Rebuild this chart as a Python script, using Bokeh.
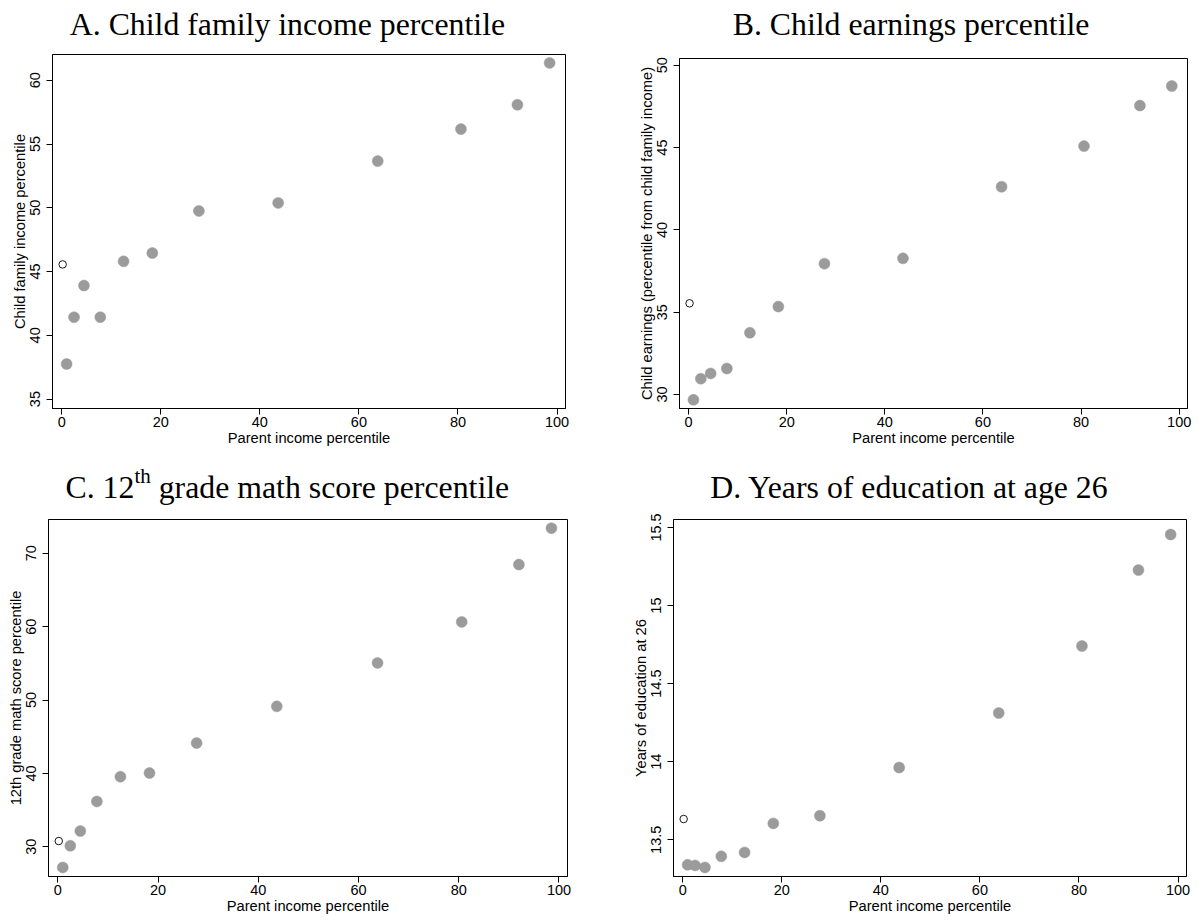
from bokeh.plotting import figure
from bokeh.models import FixedTicker, Range1d
from bokeh.layouts import column, row
from bokeh.core.properties import value
from bokeh.embed import file_html
from bokeh.resources import INLINE

# ---------------- data ----------------
parent_pct = [1.0, 2.5, 4.5, 7.8, 12.5, 18.3, 27.7, 43.7, 63.8, 80.6, 92.0, 98.5]
zero_parent_pct = [0.2]

child_income = [37.75, 41.42, 43.90, 41.42, 45.80, 46.45, 49.75, 50.38, 53.66, 56.17, 58.08, 61.36]
child_income_zero = [45.56]

child_earnings = [29.68, 30.96, 31.28, 31.58, 33.75, 35.34, 37.95, 38.27, 42.62, 45.09, 47.55, 48.74]
child_earnings_zero = [35.54]

math_score = [27.18, 30.14, 32.14, 36.18, 39.55, 40.05, 44.14, 49.14, 55.05, 60.64, 68.46, 73.41]
math_score_zero = [30.78]

years_educ = [13.340, 13.336, 13.323, 13.394, 13.419, 13.605, 13.654, 13.963, 14.312, 14.741, 15.227, 15.455]
years_educ_zero = [13.633]

x_ticks = [0, 20, 40, 60, 80, 100]
x_tick_labels = ["0", "20", "40", "60", "80", "100"]

a_ticks = [35, 40, 45, 50, 55, 60]
a_tick_labels = ["35", "40", "45", "50", "55", "60"]
b_ticks = [30, 35, 40, 45, 50]
b_tick_labels = ["30", "35", "40", "45", "50"]
c_ticks = [30, 40, 50, 60, 70]
c_tick_labels = ["30", "40", "50", "60", "70"]
d_ticks = [13.5, 14, 14.5, 15, 15.5]
d_tick_labels = ["13.5", "14", "14.5", "15", "15.5"]

x_label = "Parent income percentile"
a_ylabel = "Child family income percentile"
b_ylabel = "Child earnings (percentile from child family income)"
c_ylabel = "12th grade math score percentile"
d_ylabel = "Years of education at 26"

a_title = "A. Child family income percentile"
b_title = "B. Child earnings percentile"
c_title_parts = ["C. 12", "th", "grade math score percentile"]
d_title = "D. Years of education at age 26"

SERIF = "Liberation Serif"
SANS = "Liberation Sans"
FILL = "#9b9b9b"
PANEL_W = 601
TITLE_H = 50
PLOT_H = 410


def title_fig(pieces, fw):
    # the title strip's frame is aligned with the plot frame below it,
    # so its x units are pixels measured from that frame's left edge
    t = figure(width=PANEL_W, height=TITLE_H, x_range=Range1d(0, fw),
               y_range=Range1d(0, TITLE_H), x_axis_type=None, y_axis_type=None,
               min_border=0, output_backend="svg", toolbar_location=None,
               title=None, background_fill_color="white",
               border_fill_color="white")
    t.outline_line_color = None
    t.grid.visible = False
    for (txt, tx, ty, size) in pieces:
        t.text(x=[tx], y=[ty], text=[txt], text_font=value(SERIF),
               text_font_size=value(size), text_color="black",
               text_align="left", text_baseline="alphabetic")
    return t


def make_panel(xs, ys, x0s, y0s, y_range, yticks, ylabels, ylabel,
               fw, fh, bl, bt):
    p = figure(frame_width=fw, frame_height=fh,
               min_border_left=bl, min_border_right=PANEL_W - bl - fw,
               min_border_top=bt, min_border_bottom=PLOT_H - bt - fh,
               x_range=Range1d(-1.85, 101.7), y_range=Range1d(*y_range),
               output_backend="svg", toolbar_location=None, title=None,
               background_fill_color="white", border_fill_color="white")
    p.outline_line_color = "black"
    p.outline_line_alpha = 1.0
    p.outline_line_width = 1
    p.grid.visible = False

    p.xaxis.ticker = FixedTicker(ticks=x_ticks)
    p.xaxis.major_label_overrides = dict(zip(x_ticks, x_tick_labels))
    p.yaxis.ticker = FixedTicker(ticks=yticks)
    p.yaxis.major_label_overrides = dict(zip(yticks, ylabels))
    p.yaxis.major_label_orientation = "vertical"

    for ax in (p.xaxis[0], p.yaxis[0]):
        ax.axis_line_color = "black"
        ax.major_tick_line_color = "black"
        ax.major_tick_out = 6
        ax.major_tick_in = 0
        ax.minor_tick_out = 0
        ax.minor_tick_in = 0
        ax.major_label_text_font = SANS
        ax.major_label_text_font_size = "14.5px"
        ax.major_label_text_color = "black"
        ax.axis_label_text_font = SANS
        ax.axis_label_text_font_size = "14.7px"
        ax.axis_label_text_font_style = "normal"
        ax.axis_label_text_color = "black"
        ax.axis_label_standoff = 0
    p.xaxis.major_label_standoff = 2
    p.yaxis.major_label_standoff = 6
    p.xaxis.axis_label = x_label
    p.yaxis.axis_label = ylabel

    p.scatter(xs, ys, size=11, fill_color=FILL, line_color=FILL, line_width=0.5)
    p.scatter(x0s, y0s, size=7.5, fill_color="white", line_color="black", line_width=0.9)
    return p


tA = title_fig([(a_title, 17.3, 25.7, "31.8px")], 513)
pA = make_panel(parent_pct, child_income, zero_parent_pct, child_income_zero,
                (34.26, 62.02), a_ticks, a_tick_labels, a_ylabel,
                513, 354, 52, 4)

tB = title_fig([(b_title, 53.2, 25.7, "31.8px")], 508)
pB = make_panel(parent_pct, child_earnings, zero_parent_pct, child_earnings_zero,
                (29.15, 50.41), b_ticks, b_tick_labels, b_ylabel,
                508, 350, 78, 8)

tC = title_fig([(c_title_parts[0], 17.0, 23.0, "31.8px"),
                (c_title_parts[1], 85.9, 35.0, "21px"),
                (c_title_parts[2], 110.2, 23.0, "31.8px")], 519)
pC = make_panel(parent_pct, math_score, zero_parent_pct, math_score_zero,
                (25.95, 74.6), c_ticks, c_tick_labels, c_ylabel,
                519, 357, 48, 9)

tD = title_fig([(d_title, 36.8, 23.0, "31.8px")], 513)
pD = make_panel(parent_pct, years_educ, zero_parent_pct, years_educ_zero,
                (13.265, 15.551), d_ticks, d_tick_labels, d_ylabel,
                513, 357, 72, 9)

layout = column(row(column(tA, pA), column(tB, pB)),
                row(column(tC, pC), column(tD, pD)))

with open("out.html", "w") as f:
    f.write(file_html(layout, INLINE))
